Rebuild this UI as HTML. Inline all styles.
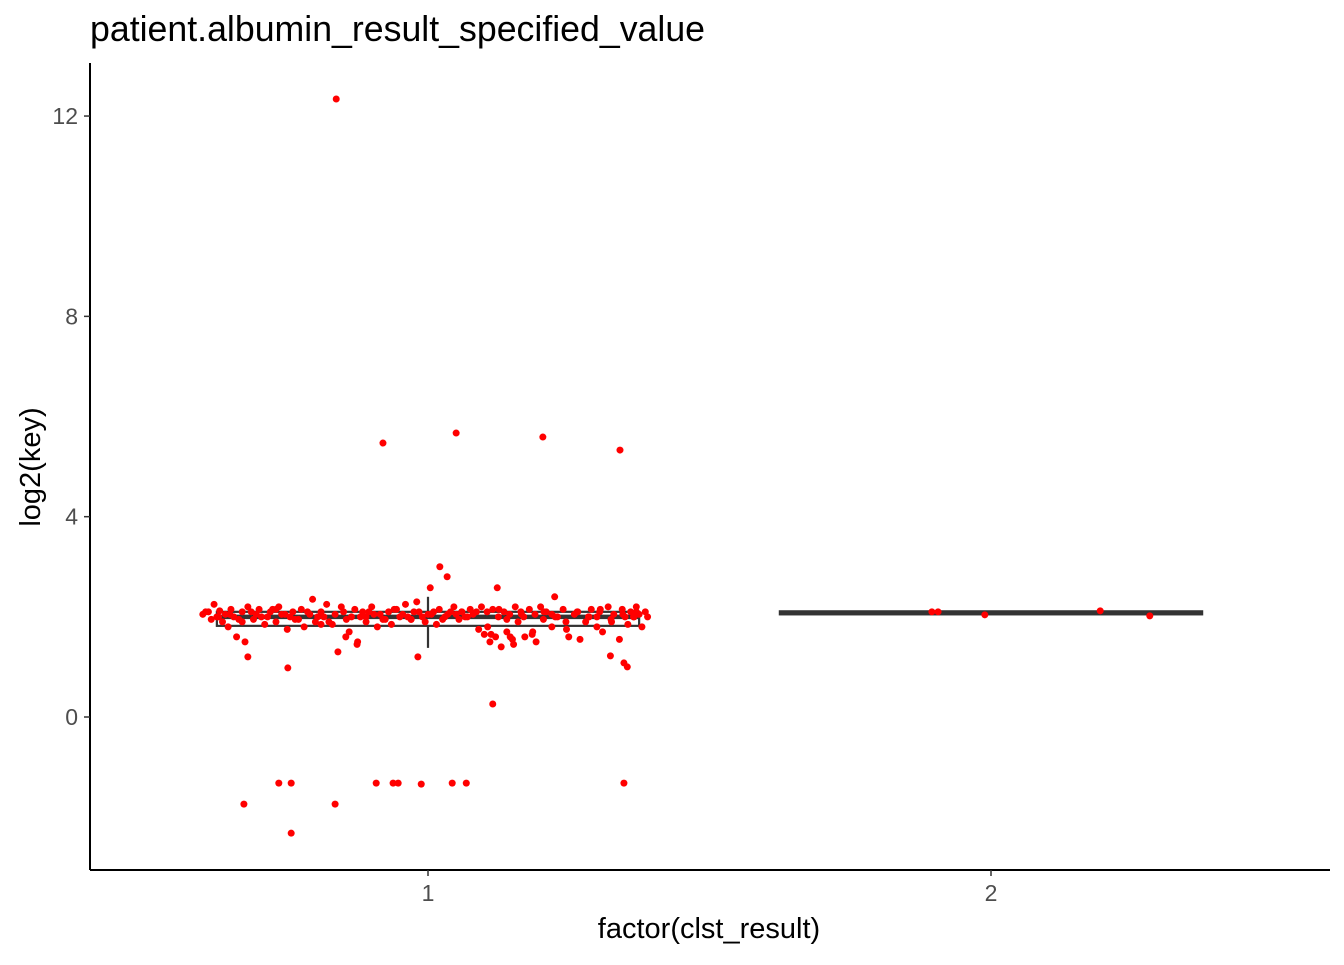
<!DOCTYPE html>
<html><head><meta charset="utf-8"><style>
body{margin:0;background:#fff;font-family:"Liberation Sans",sans-serif}
svg text{font-family:"Liberation Sans",sans-serif}
</style></head><body>
<svg id="chart" width="1344" height="960" xmlns="http://www.w3.org/2000/svg">
<text x="90" y="41" style="font-size:35.7px" fill="#000">patient.albumin_result_specified_value</text>
<g id="plot"></g>
<text x="709" y="938" style="font-size:29px" text-anchor="middle" fill="#000">factor(clst_result)</text>
<text transform="translate(40,467) rotate(-90)" style="font-size:29px" text-anchor="middle" fill="#000">log2(key)</text>
</svg>
<script>
const categories=["1","2"];
const yTicks=[0,4,8,12];
const boxStats=[{q1:1.82,med:2.0,q3:2.10,lo:1.38,hi:2.40},{q1:2.05,med:2.08,q3:2.11,lo:2.05,hi:2.11}];
const g1Jit=[-0.163,-0.08,0.05,0.204,0.341,0.021,0.034,0.004,0.123,0.115,-0.249,-0.018,-0.327,-0.165,-0.243,-0.265,-0.243,-0.092,-0.062,-0.053,-0.012,0.043,0.068,0.348,-0.32,0.348,0.354,0.324];
const g1Val=[12.34,5.47,5.67,5.59,5.33,3.0,2.8,2.58,2.58,0.26,0.98,1.2,-1.74,-1.74,-2.32,-1.32,-1.32,-1.32,-1.32,-1.32,-1.34,-1.32,-1.32,-1.32,1.2,1.08,1.0,1.22];
const bandJit=[-0.40,-0.39,-0.385,-0.38,-0.375,-0.37,-0.365,-0.36,-0.355,-0.35,-0.345,-0.34,-0.33,-0.325,-0.32,-0.31,-0.305,-0.30,-0.29,-0.285,-0.28,-0.27,-0.265,-0.26,-0.25,-0.245,-0.24,-0.23,-0.225,-0.22,-0.21,-0.205,-0.20,-0.19,-0.185,-0.18,-0.17,-0.165,-0.16,-0.15,-0.145,-0.14,-0.13,-0.125,-0.12,-0.11,-0.105,-0.10,-0.09,-0.085,-0.08,-0.07,-0.065,-0.06,-0.05,-0.045,-0.04,-0.03,-0.025,-0.02,-0.01,-0.005,0.0,0.01,0.015,0.02,0.03,0.035,0.04,0.05,0.055,0.06,0.07,0.075,0.08,0.09,0.095,0.10,0.105,0.11,0.115,0.12,0.125,0.13,0.135,0.14,0.145,0.15,0.155,0.16,0.165,0.17,0.18,0.185,0.19,0.20,0.205,0.21,0.22,0.225,0.23,0.24,0.245,0.25,0.26,0.265,0.27,0.28,0.285,0.29,0.30,0.305,0.31,0.32,0.325,0.33,0.34,0.345,0.35,0.355,0.36,0.365,0.37,0.375,0.38,0.39,-0.33,-0.27,-0.19,-0.11,-0.03,0.06,0.14,0.22,0.30,0.37];
const bandVal=[2.05,2.1,1.95,2.25,2.0,2.12,1.9,2.05,1.8,2.15,2.0,1.6,2.1,1.5,2.2,1.95,2.05,2.15,1.85,2.0,2.1,1.9,2.2,2.05,1.75,2.0,2.1,1.95,2.15,1.8,2.05,2.35,1.9,2.1,2.0,2.25,1.85,2.05,1.3,2.1,1.95,1.7,2.15,1.5,2.0,1.9,2.1,2.2,1.8,2.05,1.95,2.1,1.85,2.15,2.0,2.05,2.25,1.95,2.1,2.3,2.0,1.9,2.05,2.1,1.85,2.15,2.0,2.05,2.1,2.05,1.95,2.1,2.0,2.15,2.05,1.75,2.2,1.65,2.1,1.5,2.15,1.6,2.0,1.4,2.1,1.7,2.05,1.55,2.2,1.9,2.1,2.0,2.15,1.65,2.05,2.2,1.95,2.1,1.8,2.4,2.0,2.15,1.9,1.6,2.05,2.1,1.55,1.9,2.0,2.15,1.8,2.1,1.7,2.2,1.95,2.05,1.55,2.15,2.0,1.85,2.1,2.0,2.2,2.05,1.8,2.0,1.9,2.15,1.85,2.0,1.95,2.1,1.95,2.05,2.0,2.1];
const band2Jit=[-0.395,-0.372,-0.352,-0.336,-0.314,-0.296,-0.276,-0.254,-0.236,-0.214,-0.196,-0.176,-0.154,-0.136,-0.116,-0.096,-0.076,-0.056,-0.036,-0.016,0.006,0.026,0.046,0.066,0.086,0.106,0.126,0.146,0.166,0.186,0.206,0.226,0.246,0.266,0.286,0.306,0.326,0.346,0.366,0.386,0.152,0.172,0.192,0.112,-0.146,-0.126];
const band2Val=[2.1,2.0,2.05,1.95,2.1,2.0,2.15,2.05,1.95,2.1,2.0,1.9,2.2,2.0,2.1,2.05,1.95,2.15,2.0,2.1,2.05,1.95,2.2,2.0,2.1,1.8,2.15,1.6,2.05,1.7,2.1,2.0,1.75,2.1,2.0,2.15,1.9,2.05,2.0,2.1,1.45,1.6,1.5,1.65,1.6,1.45];
const g2Jit=[-0.105,-0.094,-0.011,0.194,0.282];
const g2Val=[2.1,2.1,2.04,2.12,2.02];
const NS="http://www.w3.org/2000/svg";
const plot=document.getElementById('plot');
const xS=c=>428+(c-1)*563;
const yS=v=>717-v*50.08;
function mk(t,a){const e=document.createElementNS(NS,t);for(const k in a)e.setAttribute(k,a[k]);plot.appendChild(e);return e;}
let e;
e=mk('line',{x1:90,y1:63,x2:90,y2:870,stroke:'#000','stroke-width':2});


e=mk('line',{x1:90,y1:870,x2:1330,y2:870,stroke:'#000','stroke-width':2});


yTicks.forEach(v=>{
e=mk('line',{x1:84,x2:90,y1:yS(v),y2:yS(v),stroke:'#333','stroke-width':1.5});


e=mk('text',{x:78,y:yS(v)+8,'text-anchor':'end',style:'font-size:23px',fill:'#4d4d4d'});e.textContent=v;


});
categories.forEach((c,i)=>{
const x=xS(i+1);
e=mk('line',{x1:x,x2:x,y1:870,y2:876,stroke:'#333','stroke-width':1.5});


e=mk('text',{x:x,y:901,'text-anchor':'middle',style:'font-size:23px',fill:'#4d4d4d'});e.textContent=c;


const b=boxStats[i],hw=0.375*563;
e=mk('line',{x1:x,x2:x,y1:yS(b.hi),y2:yS(b.q3),stroke:'#333','stroke-width':2.2});


e=mk('line',{x1:x,x2:x,y1:yS(b.q1),y2:yS(b.lo),stroke:'#333','stroke-width':2.2});


e=mk('rect',{x:x-hw,y:yS(b.q3),width:2*hw,height:Math.max(yS(b.q1)-yS(b.q3),1),fill:'#fff',stroke:'#333','stroke-width':2.2});


e=mk('line',{x1:x-hw,x2:x+hw,y1:yS(b.med),y2:yS(b.med),stroke:'#333','stroke-width':4.5});


});
function pts(j,v,c){j.forEach((d,k)=>{
e=mk('circle',{cx:xS(c+d),cy:yS(v[k]),r:3.5,fill:'#ff0000'});


});}
pts(bandJit,bandVal,1);pts(band2Jit,band2Val,1);pts(g1Jit,g1Val,1);pts(g2Jit,g2Val,2);
</script>
</body></html>
